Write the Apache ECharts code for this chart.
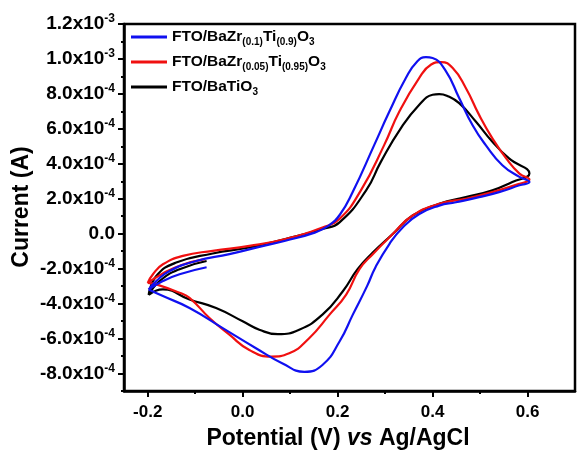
<!DOCTYPE html>
<html>
<head>
<meta charset="utf-8">
<script src="https://cdn.jsdelivr.net/npm/echarts@6/dist/echarts.min.js"></script>
<style>html,body{margin:0;padding:0;background:#fff;}#c{width:579px;height:450px;}</style>
</head>
<body>
<div id="c"></div>
<script>
// ---- data (Potential V, Current A) ----
var seriesNames = ['BZT01', 'BZT005', 'BTO'];
var legendRich = [
  '{n|FTO/BaZr}{s|(0.1)}{n|Ti}{s|(0.9)}{n|O}{s|3}',
  '{n|FTO/BaZr}{s|(0.05)}{n|Ti}{s|(0.95)}{n|O}{s|3}',
  '{n|FTO/BaTiO}{s|3}'
];
var blueCurve = [
  [-0.076,-1.92e-4],[-0.133,-2.32e-4],[-0.168,-2.71e-4],[-0.198,-3.19e-4],
  [-0.182,-2.71e-4],[-0.154,-2.13e-4],[-0.098,-1.56e-4],[-0.028,-1.17e-4],[0.02,-0.85e-4],
  [0.09,-0.40e-4],[0.150,0.05e-4],[0.180,0.45e-4],[0.205,1.10e-4],[0.232,2.40e-4],
  [0.277,5.07e-4],[0.309,6.99e-4],[0.344,8.92e-4],[0.368,9.87e-4],[0.386,1.010e-3],
  [0.400,1.005e-3],[0.428,9.30e-4],[0.456,7.76e-4],[0.484,6.22e-4],[0.512,5.07e-4],
  [0.547,3.92e-4],[0.583,3.25e-4],[0.604,2.96e-4],
  [0.583,2.77e-4],[0.540,2.38e-4],[0.498,2.09e-4],[0.449,1.80e-4],[0.414,1.61e-4],
  [0.372,1.13e-4],[0.337,0.36e-4],[0.309,-0.59e-4],[0.280,-1.90e-4],[0.262,-3.00e-4],
  [0.232,-4.63e-4],[0.204,-6.17e-4],[0.168,-7.51e-4],[0.130,-7.90e-4],[0.084,-7.42e-4],
  [0.028,-6.55e-4],[-0.042,-5.40e-4],[-0.112,-4.25e-4],[-0.168,-3.57e-4],[-0.198,-3.19e-4]
];
var redCurve = [
  [-0.080,-1.45e-4],[-0.130,-1.80e-4],[-0.170,-2.30e-4],[-0.200,-2.81e-4],
  [-0.189,-2.32e-4],[-0.168,-1.75e-4],[-0.126,-1.27e-4],[-0.063,-0.98e-4],[0.014,-0.70e-4],
  [0.090,-0.30e-4],[0.168,0.36e-4],[0.204,0.85e-4],[0.249,2.48e-4],[0.298,5.07e-4],
  [0.330,6.99e-4],[0.372,8.92e-4],[0.397,9.68e-4],[0.418,9.82e-4],
  [0.442,9.49e-4],[0.470,8.34e-4],[0.498,6.80e-4],[0.526,5.46e-4],[0.555,4.31e-4],
  [0.583,3.44e-4],[0.604,3.10e-4],
  [0.583,2.86e-4],[0.526,2.38e-4],[0.470,2.00e-4],[0.414,1.71e-4],[0.358,1.04e-4],
  [0.316,-0.02e-4],[0.274,-1.17e-4],[0.246,-2.03e-4],[0.218,-3.48e-4],[0.183,-4.63e-4],
  [0.140,-5.98e-4],[0.098,-6.84e-4],[0.060,-7.03e-4],[0.014,-6.65e-4],[-0.028,-5.78e-4],
  [-0.070,-4.82e-4],[-0.112,-3.67e-4],[-0.133,-3.38e-4],[-0.182,-2.90e-4],[-0.200,-2.81e-4]
];
var blackCurve = [
  [-0.076,-1.56e-4],[-0.133,-2.03e-4],[-0.175,-2.71e-4],[-0.198,-3.50e-4],
  [-0.182,-2.42e-4],[-0.140,-1.65e-4],[-0.063,-1.13e-4],[0.014,-0.79e-4],[0.090,-0.30e-4],
  [0.168,0.27e-4],[0.204,0.65e-4],[0.260,2.48e-4],[0.291,4.11e-4],[0.333,6.03e-4],
  [0.372,7.38e-4],[0.400,7.95e-4],[0.414,7.99e-4],[0.430,7.90e-4],[0.456,7.47e-4],
  [0.491,6.42e-4],[0.526,5.26e-4],[0.561,4.31e-4],[0.604,3.44e-4],
  [0.568,2.96e-4],[0.526,2.48e-4],[0.470,2.09e-4],[0.414,1.71e-4],[0.358,1.04e-4],
  [0.316,-0.02e-4],[0.274,-1.08e-4],[0.242,-2.03e-4],[0.211,-3.29e-4],[0.168,-4.63e-4],
  [0.119,-5.49e-4],[0.074,-5.75e-4],[0.035,-5.49e-4],[0.000,-5.01e-4],[-0.056,-4.25e-4],
  [-0.112,-3.76e-4],[-0.168,-3.19e-4],[-0.198,-3.50e-4]
];
var seriesColors = ['#1010f0', '#f01010', '#000000'];

var xMajorTicks = [-0.2, 0.0, 0.2, 0.4, 0.6];
var xMinorTicks = [-0.1, 0.1, 0.3, 0.5];
var xTickLabels = ['-0.2', '0.0', '0.2', '0.4', '0.6'];
var yMajorTicks = [-8e-4, -6e-4, -4e-4, -2e-4, 0, 2e-4, 4e-4, 6e-4, 8e-4, 1.0e-3, 1.2e-3];
var yMinorTicks = [-9e-4, -7e-4, -5e-4, -3e-4, -1e-4, 1e-4, 3e-4, 5e-4, 7e-4, 9e-4, 1.1e-3];
var yTickMantissa = ['-8.0', '-6.0', '-4.0', '-2.0', '0.0', '2.0', '4.0', '6.0', '8.0', '1.0', '1.2'];
var yTickExp = ['-4', '-4', '-4', '-4', '', '-4', '-4', '-4', '-4', '-3', '-3'];
var xTitle = ['Potential (V) ', 'vs', ' Ag/AgCl'];
var yTitle = 'Current (A)';

var FONT = '"Liberation Sans", Arial, sans-serif';

function nearestIdx(arr, v) {
  var best = 0, bd = Infinity;
  for (var i = 0; i < arr.length; i++) { var d = Math.abs(arr[i] - v); if (d < bd) { bd = d; best = i; } }
  return best;
}

var chart = echarts.init(document.getElementById('c'), null, {renderer: 'canvas'});
var curves = [blueCurve, redCurve, blackCurve];

var option = {
  backgroundColor: '#ffffff',
  animation: false,
  grid: {left: 124, right: 4, top: 24, bottom: 59, show: true, borderColor: '#000', borderWidth: 2.5, backgroundColor: 'transparent'},
  legend: {
    orient: 'vertical', left: 126, top: 22, itemWidth: 36, itemHeight: 3, itemGap: 5,
    icon: 'rect',
    data: seriesNames,
    formatter: function (name) { return legendRich[seriesNames.indexOf(name)]; },
    textStyle: {
      fontFamily: FONT, fontWeight: 'bold', color: '#000',
      rich: {
        n: {fontFamily: FONT, fontWeight: 'bold', fontSize: 15.5, lineHeight: 15, color: '#000', verticalAlign: 'middle'},
        s: {fontFamily: FONT, fontWeight: 'bold', fontSize: 10, lineHeight: 10, color: '#000', padding: [10, 0, 0, 0], verticalAlign: 'middle'}
      }
    }
  },
  xAxis: [{
    type: 'value', min: -0.25, max: 0.7, gridIndex: 0,
    axisLine: {show: true, onZero: false, lineStyle: {color: '#000', width: 2.5}},
    axisTick: {show: true, customValues: xMajorTicks, length: 6, lineStyle: {color: '#000', width: 2}},
    axisLabel: {
      customValues: xMajorTicks, margin: 13,
      formatter: function (v) { return xTickLabels[nearestIdx(xMajorTicks, v)]; },
      fontFamily: FONT, fontWeight: 'bold', fontSize: 17, color: '#000'
    },
    splitLine: {show: false}
  }, {
    type: 'value', min: -0.25, max: 0.7, position: 'bottom',
    axisLine: {show: false, onZero: false},
    axisTick: {show: true, customValues: xMinorTicks, length: 3, lineStyle: {color: '#000', width: 2}},
    axisLabel: {show: false},
    splitLine: {show: false}
  }],
  yAxis: [{
    type: 'value', min: -9e-4, max: 1.2e-3,
    axisLine: {show: true, onZero: false, lineStyle: {color: '#000', width: 2.5}},
    axisTick: {show: true, customValues: yMajorTicks, length: 6, lineStyle: {color: '#000', width: 2}},
    axisLabel: {
      customValues: yMajorTicks, margin: 9,
      formatter: function (v) {
        var i = nearestIdx(yMajorTicks, v);
        if (!yTickExp[i]) return '{m|' + yTickMantissa[i] + '}';
        return '{m|' + yTickMantissa[i] + 'x10}{e|' + yTickExp[i] + '}';
      },
      rich: {
        m: {fontFamily: FONT, fontWeight: 'bold', fontSize: 19, lineHeight: 19, color: '#000', verticalAlign: 'middle'},
        e: {fontFamily: FONT, fontWeight: 'bold', fontSize: 12, lineHeight: 12, color: '#000', padding: [0, 0, 10, 0], verticalAlign: 'middle'}
      }
    },
    splitLine: {show: false}
  }, {
    type: 'value', min: -9e-4, max: 1.2e-3, position: 'left',
    axisLine: {show: false, onZero: false},
    axisTick: {show: true, customValues: yMinorTicks, length: 3, lineStyle: {color: '#000', width: 2}},
    axisLabel: {show: false},
    splitLine: {show: false}
  }],
  graphic: [
    {
      type: 'text', x: 22, y: 207, rotation: Math.PI / 2,
      style: {text: yTitle, fontFamily: FONT, fontWeight: 'bold', fontSize: 23, fill: '#000', align: 'center', verticalAlign: 'middle'}
    },
    {
      type: 'text', x: 338, y: 439,
      style: {
        text: '{b|' + xTitle[0] + '}{i|' + xTitle[1] + '}{b|' + xTitle[2] + '}',
        align: 'center', verticalAlign: 'middle',
        rich: {
          b: {fontFamily: FONT, fontWeight: 'bold', fontSize: 23, fill: '#000'},
          i: {fontFamily: FONT, fontWeight: 'bold', fontStyle: 'italic', fontSize: 23, fill: '#000'}
        }
      }
    }
  ],
  series: curves.map(function (c, k) {
    return {
      name: seriesNames[k], type: 'line', data: c, xAxisIndex: 0, yAxisIndex: 0,
      showSymbol: false, symbol: 'none', smooth: 0.5,
      lineStyle: {color: seriesColors[k], width: 2.2},
      itemStyle: {color: seriesColors[k]},
      z: 3 - k
    };
  })
};
chart.setOption(option);
</script>
</body>
</html>
